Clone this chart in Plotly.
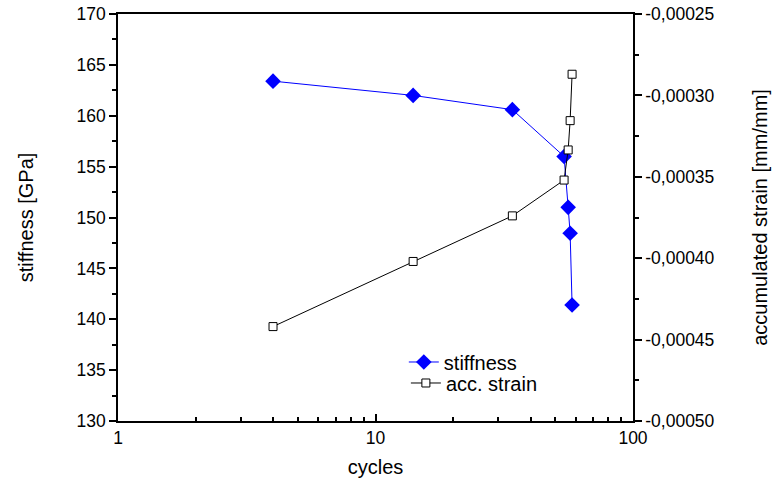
import plotly.graph_objects as go

cycles_stiff = [4, 14, 34, 54, 56, 57, 58]
stiffness = [163.4, 162.0, 160.6, 156.0, 151.0, 148.45, 141.4]
cycles_strain = [4, 14, 34, 54, 56, 57, 58]
acc_strain = [-0.000442, -0.000402, -0.000374, -0.000352, -0.0003335, -0.0003155, -0.000287]

left_ticks = [130, 135, 140, 145, 150, 155, 160, 165, 170]
right_ticks = [-0.0005, -0.00045, -0.0004, -0.00035, -0.0003, -0.00025]
right_labels = ["-0,00050", "-0,00045", "-0,00040", "-0,00035", "-0,00030", "-0,00025"]
x_ticks = [1, 10, 100]
x_labels = ["1", "10", "100"]

FONT = "Liberation Sans, Arial, sans-serif"
TICK = 17.5
TITLE = 20

fig = go.Figure()
fig.add_trace(go.Scatter(
    x=cycles_stiff, y=stiffness, name="stiffness", mode="lines+markers",
    line=dict(color="#0000ff", width=1),
    marker=dict(symbol="diamond", size=12, color="#0000ff"),
    yaxis="y", legend="legend"))
fig.add_trace(go.Scatter(
    x=cycles_strain, y=acc_strain, name="acc. strain", mode="lines+markers",
    line=dict(color="#000000", width=1),
    marker=dict(symbol="square", size=8, color="white", line=dict(color="black", width=1)),
    yaxis="y2", legend="legend2"))

fig.update_layout(
    width=780, height=479,
    margin=dict(l=118, r=147, t=14, b=58),
    paper_bgcolor="white", plot_bgcolor="white",
    font=dict(family=FONT, size=TICK, color="black"),
    showlegend=True,
    legend=dict(x=0.555, y=0.145, xanchor="left", yanchor="middle",
                bgcolor="rgba(0,0,0,0)", font=dict(size=20)),
    legend2=dict(x=0.559, y=0.0934, xanchor="left", yanchor="middle",
                 bgcolor="rgba(0,0,0,0)", font=dict(size=20)),
    xaxis=dict(type="log", range=[0, 2], tickvals=x_ticks, ticktext=x_labels,
               ticks="inside", ticklen=7, tickwidth=1.5, tickcolor="black",
               showline=True, linecolor="black", linewidth=1.5, mirror=True,
               showgrid=False, zeroline=False, automargin=False,
               ticklabeloverflow="allow", tickfont=dict(size=TICK),
               minor=dict(ticks="inside", ticklen=4, dtick="D1", tickcolor="black", showgrid=False),
               title=dict(text="cycles", standoff=13, font=dict(size=TITLE))),
    yaxis=dict(range=[130, 170], tickvals=left_ticks,
               ticks="outside", ticklen=7, tickwidth=1.5, tickcolor="black",
               showline=True, linecolor="black", linewidth=1.5,
               showgrid=False, zeroline=False, automargin=False,
               ticklabeloverflow="allow", tickfont=dict(size=TICK),
               minor=dict(ticks="outside", ticklen=4, dtick=2.5, tickcolor="black", showgrid=False),
               title=dict(text="stiffness [GPa]", standoff=38, font=dict(size=TITLE))),
    yaxis2=dict(range=[-0.0005, -0.00025], overlaying="y", side="right",
                tickvals=right_ticks, ticktext=right_labels,
                ticks="outside", ticklen=7, tickwidth=1.5, tickcolor="black",
                showline=True, linecolor="black", linewidth=1.5,
                showgrid=False, zeroline=False, automargin=False,
                ticklabeloverflow="allow", tickfont=dict(size=TICK),
                minor=dict(ticks="outside", ticklen=4, dtick=0.000025, tickcolor="black", showgrid=False),
                title=dict(text="accumulated strain [mm/mm]", standoff=39, font=dict(size=TITLE))),
)

fig.write_html("out.html", config={"displayModeBar": False},
               post_script="document.body.style.margin='0';")
